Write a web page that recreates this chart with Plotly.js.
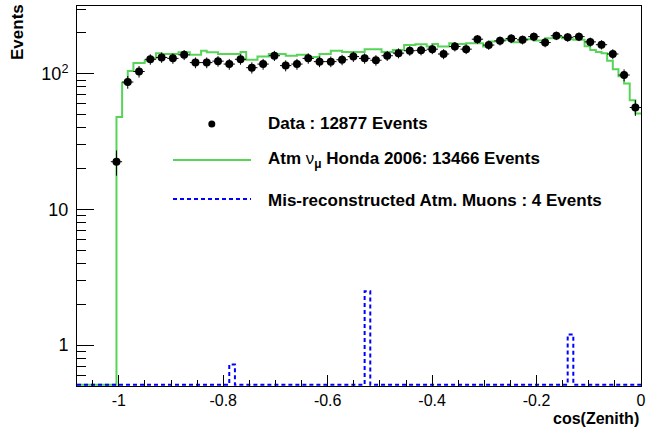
<!DOCTYPE html>
<html>
<head>
<meta charset="utf-8">
<script src="https://cdn.plot.ly/plotly-3.0.1.min.js"></script>
<style>
html,body{margin:0;padding:0;background:#fff;}
#chart{width:651px;height:427px;}
</style>
</head>
<body>
<div id="chart"></div>
<script>
// Histogram definitions (cos(Zenith) from -1.08 to 0)
const histMin = -1.08;
const histMax = 0;

// Data: 50 bins, counts (null = empty bin)
const dataCounts = [null, null, null, 22.5, 87, 104, 128, 132, 130, 138,
  121, 121, 124, 118, 128, 111, 118, 136, 115, 118,
  130, 123, 123, 127, 134, 130, 126, 136, 142, 148,
  149, 152, 140, 159, 152, 180, 163, 175, 182, 178,
  188, 170, 191, 186, 188, 172, 164, 140, 98, 56.5];

// Atm nu_mu Honda 2006 MC: 100 bins
const mcCounts = [0, 0, 0, 0, 0, 0, 0, 48, 86, 105,
  120, 120, 125, 130, 142, 140, 140, 140, 144, 144,
  138, 138, 148, 144, 144, 140, 140, 140, 140, 145,
  127, 127, 134, 134, 140, 140, 140, 136, 136, 138,
  138, 133, 133, 140, 140, 148, 148, 145, 145, 145,
  145, 152, 152, 152, 145, 145, 150, 150, 163, 163,
  165, 165, 159, 166, 159, 159, 168, 166, 166, 168,
  168, 168, 159, 173, 173, 178, 178, 171, 171, 180,
  180, 176, 176, 183, 183, 187, 183, 180, 178, 178,
  160, 150, 145, 142, 125, 108, 96, 85, 64, 51];

// Mis-reconstructed atmospheric muons: 100 bins
const muCounts = [0, 0, 0, 0, 0, 0, 0, 0, 0, 0,
  0, 0, 0, 0, 0, 0, 0, 0, 0, 0,
  0, 0, 0, 0, 0, 0, 0, 0.72, 0, 0,
  0, 0, 0, 0, 0, 0, 0, 0, 0, 0,
  0, 0, 0, 0, 0, 0, 0, 0, 0, 0,
  0, 2.5, 0, 0, 0, 0, 0, 0, 0, 0,
  0, 0, 0, 0, 0, 0, 0, 0, 0, 0,
  0, 0, 0, 0, 0, 0, 0, 0, 0, 0,
  0, 0, 0, 0, 0, 0, 0, 1.2, 0, 0,
  0, 0, 0, 0, 0, 0, 0, 0, 0, 0];

const xTickVals = [-1, -0.8, -0.6, -0.4, -0.2, 0];
const xTickText = ['-1', '-0.8', '-0.6', '-0.4', '-0.2', '0'];
const yTickVals = [1, 10, 100];
const yTickText = ['1', '10', '10<sup>2</sup>'];

const legendLabels = [
  'Data : 12877 Events',
  'Atm <span style="font-weight:normal">\u03bd</span><sub>\u03bc</sub> Honda 2006: 13466 Events',
  'Mis-reconstructed Atm. Muons : 4 Events'
];

const yMin = 0.5, yMaxLog = 2.5;
const yFloor = yMin * 1.02; // empty bins drawn along the bottom of the frame

// --- build traces ---
function stepTrace(counts, floorVal) {
  const n = counts.length, w = (histMax - histMin) / n;
  const xs = [], ys = [];
  for (let k = 0; k < n; k++) {
    xs.push(histMin + k * w);
    ys.push(counts[k] > 0 ? counts[k] : floorVal);
  }
  xs.push(histMax);
  ys.push(counts[n - 1] > 0 ? counts[n - 1] : floorVal);
  return {xs, ys};
}

const nD = dataCounts.length, wD = (histMax - histMin) / nD;
const dX = [], dY = [], dE = [];
dataCounts.forEach((v, i) => {
  if (v !== null) { dX.push(histMin + wD * (i + 0.5)); dY.push(v); dE.push(Math.sqrt(v)); }
});

const mc = stepTrace(mcCounts, yFloor);
const mu = stepTrace(muCounts, yFloor);

const greenCol = 'rgb(88,212,88)';
const blueCol = 'rgb(0,0,255)';

const traces = [
  {x: mc.xs, y: mc.ys, type: 'scatter', mode: 'lines', line: {shape: 'hv', color: greenCol, width: 2}, hoverinfo: 'skip'},
  {x: mu.xs, y: mu.ys, type: 'scatter', mode: 'lines', line: {shape: 'hv', color: blueCol, width: 2, dash: '4px,3px'}, hoverinfo: 'skip'},
  {x: dX, y: dY, type: 'scatter', mode: 'markers',
   marker: {color: 'black', size: 8, symbol: 'circle'},
   error_y: {type: 'data', array: dE, visible: true, color: 'black', thickness: 1, width: 0},
   error_x: {type: 'constant', value: wD / 2, visible: true, color: 'black', thickness: 1, width: 0}}
];

const L = 77, R = 10, T = 6, B = 41, W = 651, H = 427;
const pw = W - L - R, ph = H - T - B;
const px = x => (x - L) / pw;
const py = y => (H - B - y) / ph;

const fontBase = {family: 'Liberation Sans, Arial, sans-serif', color: 'black'};

const layout = {
  width: W, height: H,
  margin: {l: L, r: R, t: T, b: B, pad: 0},
  paper_bgcolor: 'white', plot_bgcolor: 'white',
  showlegend: false,
  xaxis: {
    range: [histMin, histMax], tickmode: 'array', tickvals: xTickVals, ticktext: xTickText,
    ticks: 'inside', ticklen: 11, tickwidth: 1, tickcolor: 'black',
    showline: true, linecolor: 'black', linewidth: 1, mirror: true,
    showgrid: false, zeroline: false,
    tickfont: Object.assign({size: 16}, fontBase),
    minor: {tickmode: 'array', tickvals: [-1.05, -0.95, -0.9, -0.85, -0.75, -0.7, -0.65, -0.55, -0.5, -0.45, -0.35, -0.3, -0.25, -0.15, -0.1, -0.05],
            ticks: 'inside', ticklen: 6, tickcolor: 'black', tickwidth: 1, showgrid: false}
  },
  yaxis: {
    type: 'log', range: [Math.log10(yMin), yMaxLog], tickmode: 'array', tickvals: yTickVals, ticktext: yTickText,
    ticks: 'inside', ticklen: 17, tickwidth: 1, tickcolor: 'black',
    showline: true, linecolor: 'black', linewidth: 1, mirror: true,
    showgrid: false, zeroline: false,
    ticklabelstandoff: 4,
    tickfont: Object.assign({size: 18}, fontBase),
    minor: {tickmode: 'array', tickvals: [0.6, 0.7, 0.8, 0.9, 2, 3, 4, 5, 6, 7, 8, 9, 20, 30, 40, 50, 60, 70, 80, 90, 200, 300],
            ticks: 'inside', ticklen: 9, tickcolor: 'black', tickwidth: 1, showgrid: false}
  },
  annotations: [
    {xref: 'paper', yref: 'paper', x: px(18), y: py(2), xanchor: 'center', yanchor: 'top', textangle: -90,
     text: '<b>Events</b>', showarrow: false, font: Object.assign({size: 17}, fontBase)},
    {xref: 'paper', yref: 'paper', x: 1, y: py(418), xanchor: 'right', yanchor: 'middle',
     text: '<b>cos(Zenith)</b>', showarrow: false, font: Object.assign({size: 16}, fontBase)},
    {xref: 'paper', yref: 'paper', x: px(266), y: py(124), xanchor: 'left', yanchor: 'middle',
     text: '<b>' + legendLabels[0] + '</b>', showarrow: false, font: Object.assign({size: 17}, fontBase)},
    {xref: 'paper', yref: 'paper', x: px(266), y: py(160), xanchor: 'left', yanchor: 'middle',
     text: '<b>' + legendLabels[1] + '</b>', showarrow: false, font: Object.assign({size: 17}, fontBase)},
    {xref: 'paper', yref: 'paper', x: px(266), y: py(200), xanchor: 'left', yanchor: 'middle',
     text: '<b>' + legendLabels[2] + '</b>', showarrow: false, font: Object.assign({size: 17}, fontBase)}
  ],
  shapes: [
    {type: 'circle', xref: 'paper', yref: 'paper', x0: px(208.3), x1: px(215.3), y0: py(127.5), y1: py(120.5),
     fillcolor: 'black', line: {color: 'black', width: 0}},
    {type: 'line', xref: 'paper', yref: 'paper', x0: px(173), x1: px(251), y0: py(160), y1: py(160),
     line: {color: greenCol, width: 2}},
    {type: 'line', xref: 'paper', yref: 'paper', x0: px(173), x1: px(251), y0: py(199), y1: py(199),
     line: {color: blueCol, width: 2, dash: '4px,3px'}}
  ]
};

Plotly.newPlot('chart', traces, layout, {staticPlot: true, displayModeBar: false});
</script>
</body>
</html>
